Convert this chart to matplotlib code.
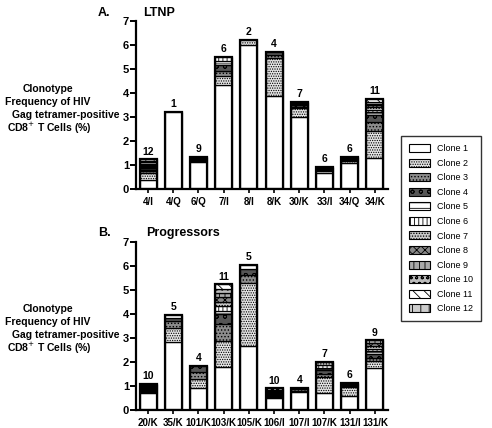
import matplotlib
matplotlib.use("Agg")
import matplotlib.pyplot as plt
from matplotlib.patches import Patch
import numpy as np

plt.rcParams['font.family'] = ['Liberation Sans', 'DejaVu Sans']
plt.rcParams['hatch.linewidth'] = 0.6

# LTNP panel
ltnp_labels = ['4/I', '4/Q', '6/Q', '7/I', '8/I', '8/K', '30/K', '33/I', '34/Q', '34/K']
ltnp_counts = [12, 1, 9, 6, 2, 4, 7, 6, 6, 11]
ltnp_segments = [
    [0.37, 0.31, 0.06, 0.06, 0.06, 0.05, 0.05, 0.05, 0.05, 0.05, 0.06, 0.06],
    [3.2],
    [1.12, 0.04, 0.03, 0.03, 0.03, 0.02, 0.02, 0.02, 0.02],
    [4.33, 0.37, 0.2, 0.25, 0.2, 0.15],
    [6.0, 0.2],
    [3.89, 1.56, 0.12, 0.15],
    [3.0, 0.37, 0.06, 0.05, 0.05, 0.05, 0.06],
    [0.66, 0.08, 0.05, 0.05, 0.05, 0.04],
    [1.1, 0.06, 0.05, 0.04, 0.04, 0.04],
    [1.29, 1.14, 0.37, 0.28, 0.12, 0.1, 0.1, 0.08, 0.08, 0.08, 0.1],
]

# Progressors panel
prog_labels = ['20/K', '35/K', '101/K', '103/K', '105/K', '106/I', '107/I', '107/K', '131/I', '131/K']
prog_counts = [10, 5, 4, 11, 5, 10, 4, 7, 6, 9]
prog_segments = [
    [0.72, 0.05, 0.04, 0.04, 0.04, 0.03, 0.03, 0.04, 0.04, 0.04],
    [2.84, 0.58, 0.29, 0.12, 0.12],
    [0.93, 0.36, 0.3, 0.25],
    [1.8, 1.07, 0.73, 0.42, 0.12, 0.2, 0.15, 0.2, 0.18, 0.18, 0.18],
    [2.66, 2.65, 0.31, 0.25, 0.16],
    [0.5, 0.06, 0.04, 0.04, 0.04, 0.04, 0.04, 0.04, 0.04, 0.06],
    [0.75, 0.06, 0.06, 0.06],
    [0.72, 0.67, 0.13, 0.13, 0.1, 0.12, 0.13],
    [0.58, 0.38, 0.04, 0.04, 0.04, 0.03],
    [1.76, 0.28, 0.14, 0.14, 0.12, 0.1, 0.12, 0.12, 0.12],
]

clone_names = ['Clone %d' % i for i in range(1, 13)]
clone_faces = ['white', '#e4e4e4', '#8c8c8c', '#555555', 'white', 'white',
               '#c8c8c8', '#888888', '#aaaaaa', '#bbbbbb', 'white', '#cccccc']
clone_hatches = ['', '.......', '.....', 'oo', '---', '||||',
                 '......', 'xxxx', '|||', 'ooo', '\\\\\\', '++']

W, H = 492, 428
fig = plt.figure(figsize=(W / 100, H / 100), dpi=100)


def draw_panel(ax, labels, counts, segments):
    x = np.arange(len(labels))
    width = 0.67
    bottom = np.zeros(len(labels))
    for k in range(12):
        vals = np.array([s[k] if k < len(s) else 0 for s in segments])
        idx = vals > 0
        ax.bar(x[idx], vals[idx], width, bottom=bottom[idx], color=clone_faces[k],
               hatch=clone_hatches[k], edgecolor='black', linewidth=0.9, zorder=2)
        bottom += vals
    ax.bar(x, bottom, width, fill=False, edgecolor='black', linewidth=1.6, zorder=3)
    for xi, tot, c in zip(x, bottom, counts):
        ax.text(xi, tot + 0.12, str(c), ha='center', va='bottom',
                fontsize=7.5, fontweight='bold')
    ax.set_xlim(-0.48, 9.52)
    ax.set_ylim(0, 7)
    ax.set_xticks(x)
    ax.set_xticklabels(labels, fontsize=7, fontweight='bold')
    ax.set_yticks(range(0, 8))
    ax.set_yticklabels([str(i) for i in range(8)], fontsize=8, fontweight='bold')
    for s in ['top', 'right']:
        ax.spines[s].set_visible(False)
    for s in ['left', 'bottom']:
        ax.spines[s].set_linewidth(1.6)
    ax.tick_params(axis='y', length=4, width=1.4, pad=1)
    ax.tick_params(axis='x', length=3, width=1.2, pad=3)


ax1 = fig.add_axes([136 / W, 1 - 189 / H, 252 / W, 168 / H])
draw_panel(ax1, ltnp_labels, ltnp_counts, ltnp_segments)
ax2 = fig.add_axes([136 / W, 1 - 410 / H, 252 / W, 168 / H])
draw_panel(ax2, prog_labels, prog_counts, prog_segments)

# panel titles
fig.text(98 / W, 1 - 13 / H, 'A.', fontsize=9, fontweight='bold', va='center')
fig.text(143 / W, 1 - 13 / H, 'LTNP', fontsize=9, fontweight='bold', va='center')
fig.text(98 / W, 1 - 233 / H, 'B.', fontsize=9, fontweight='bold', va='center')
fig.text(146 / W, 1 - 233 / H, 'Progressors', fontsize=9, fontweight='bold', va='center')

# y label lines
ylab_lines = ['Clonotype', 'Frequency of HIV', 'Gag tetramer-positive', 'CD8$^{+}$ T Cells (%)']
ylab_cx = [48, 48, 66, 49]
for y0 in (89, 309):
    for i, (txt, cx) in enumerate(zip(ylab_lines, ylab_cx)):
        fig.text(cx / W, 1 - (y0 + i * 13) / H, txt, ha='center', va='center',
                 fontsize=7.5, fontweight='bold')

handles = [Patch(facecolor=clone_faces[k], hatch=clone_hatches[k], edgecolor='black',
                 linewidth=0.8) for k in range(12)]
leg = fig.legend(handles, clone_names, loc='upper left',
                 bbox_to_anchor=(401 / W, 1 - 136 / H), frameon=True, fancybox=False,
                 edgecolor='black', fontsize=6.5, handlelength=2.3, handleheight=1.0,
                 labelspacing=0.6, borderpad=0.9, handletextpad=0.8, borderaxespad=0)
leg.get_frame().set_linewidth(1.0)

fig.savefig('out.png', dpi=100)
